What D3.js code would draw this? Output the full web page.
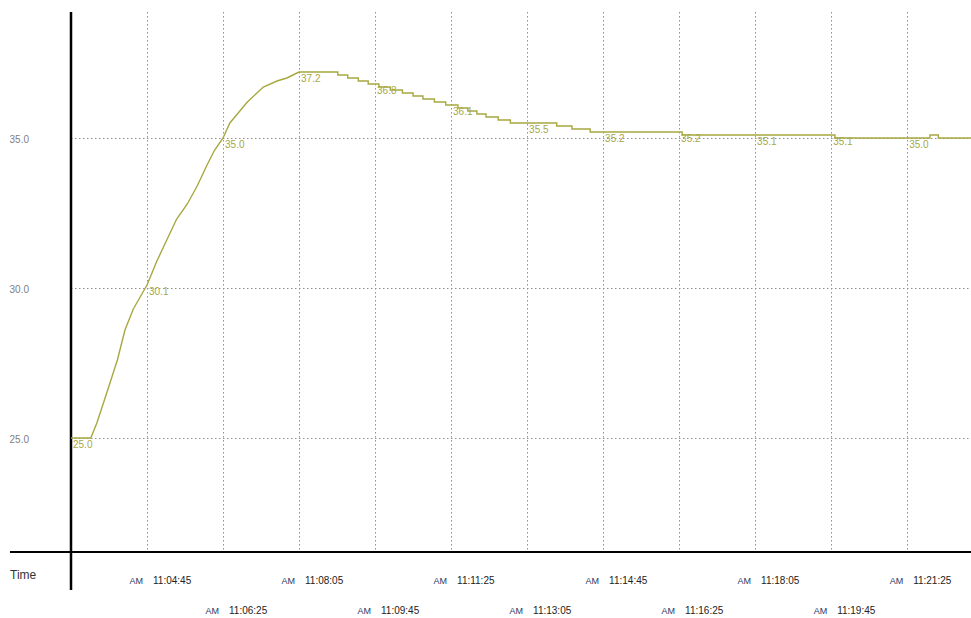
<!DOCTYPE html>
<html>
<head>
<meta charset="utf-8">
<script src="https://cdn.jsdelivr.net/npm/d3@7"></script>
<style>
  body { margin: 0; background: #fff; }
  svg { display: block; font-family: "Liberation Sans", Arial, sans-serif; }
  .grid line { stroke: #909090; stroke-width: 1; stroke-dasharray: 1.5,2.5; }
  .temp { fill: none; stroke: #a8a840; stroke-width: 1.4; }
  .vlabel { fill: #a8a840; font-size: 10px; }
</style>
</head>
<body>
<div id="chart"></div>
<script>
// Rising part of the temperature curve (sampled readings)
const riseTimes = [
  "11:03:05", "11:03:31", "11:03:39", "11:03:52", "11:04:06", "11:04:16",
  "11:04:27", "11:04:36", "11:04:45", "11:04:58", "11:05:11", "11:05:24",
  "11:05:38", "11:05:51", "11:06:04", "11:06:14", "11:06:25", "11:06:34",
  "11:06:57", "11:07:18", "11:07:36", "11:07:49", "11:08:05"
];
const riseValues = [
  25.0, 25.0, 25.5, 26.5, 27.6, 28.6,
  29.3, 29.7, 30.1, 30.9, 31.6, 32.3,
  32.8, 33.4, 34.1, 34.6, 35.0, 35.5,
  36.2, 36.7, 36.9, 37.0, 37.2
];

// After the peak the reading changes in 0.1 steps (time of each change)
const stepTimes = [
  "11:08:05", "11:08:56", "11:09:09", "11:09:23", "11:09:36", "11:09:50",
  "11:10:05", "11:10:21", "11:10:35", "11:10:48", "11:11:03", "11:11:18",
  "11:11:34", "11:11:47", "11:11:59", "11:12:11", "11:12:27", "11:12:43",
  "11:13:44", "11:14:04", "11:14:28", "11:16:29", "11:19:50", "11:21:55",
  "11:22:06", "11:22:49"
];
const stepValues = [
  37.2, 37.1, 37.0, 36.9, 36.8, 36.7,
  36.6, 36.5, 36.4, 36.3, 36.2, 36.1,
  36.0, 35.9, 35.8, 35.7, 35.6, 35.5,
  35.4, 35.3, 35.2, 35.1, 35.0, 35.1,
  35.0, 35.0
];

// Values printed on the curve
const labelTimes = [
  "11:03:05", "11:04:45", "11:06:25", "11:08:05", "11:09:45", "11:11:25",
  "11:13:05", "11:14:45", "11:16:25", "11:18:05", "11:19:45", "11:21:25"
];
const labelValues = [25.0, 30.1, 35.0, 37.2, 36.8, 36.1, 35.5, 35.2, 35.2, 35.1, 35.1, 35.0];

const timeTicks = [
  "11:04:45", "11:06:25", "11:08:05", "11:09:45", "11:11:25", "11:13:05",
  "11:14:45", "11:16:25", "11:18:05", "11:19:45", "11:21:25"
];
const yTicks = [25.0, 30.0, 35.0];

const width = 971, height = 618;
const plot = { left: 71, right: 971, top: 12, bottom: 552 };

const parse = d3.timeParse("%H:%M:%S");

const x = d3.scaleTime()
  .domain([parse("11:03:05"), parse("11:22:49")])
  .range([plot.left, plot.right]);

const y = d3.scaleLinear()
  .domain([21.2, 39.2])
  .range([plot.bottom, plot.top]);

const svg = d3.select("#chart").append("svg")
  .attr("width", width)
  .attr("height", height);

// Grid
const grid = svg.append("g").attr("class", "grid");
grid.selectAll(".vg")
  .data(timeTicks)
  .enter().append("line")
  .attr("x1", d => Math.round(x(parse(d))) + 0.5)
  .attr("x2", d => Math.round(x(parse(d))) + 0.5)
  .attr("y1", plot.top)
  .attr("y2", plot.bottom);
grid.selectAll(".hg")
  .data(yTicks)
  .enter().append("line")
  .attr("x1", plot.left)
  .attr("x2", plot.right)
  .attr("y1", d => Math.round(y(d)) + 0.5)
  .attr("y2", d => Math.round(y(d)) + 0.5);

// Y axis labels
const yAxis = svg.append("g")
  .attr("transform", `translate(${plot.left},0)`)
  .call(d3.axisLeft(y).tickValues(yTicks).tickSize(0).tickPadding(42).tickFormat(d3.format(".1f")));
yAxis.select(".domain").remove();
yAxis.selectAll("text")
  .attr("dy", "0.45em")
  .style("font-size", "10px")
  .style("font-family", "Liberation Sans, Arial, sans-serif")
  .attr("fill", "#808080");

// Axis frame lines
svg.append("line")
  .attr("x1", 10).attr("x2", plot.right)
  .attr("y1", plot.bottom).attr("y2", plot.bottom)
  .attr("stroke", "#000").attr("stroke-width", 2);
svg.append("line")
  .attr("x1", plot.left).attr("x2", plot.left)
  .attr("y1", plot.top).attr("y2", 590)
  .attr("stroke", "#000").attr("stroke-width", 2.5);

svg.append("text")
  .attr("x", 10).attr("y", 579)
  .attr("fill", "#333")
  .style("font-size", "12px")
  .text("Time");

// Time tick labels, alternating rows
const xt = svg.append("g").selectAll("g")
  .data(timeTicks)
  .enter().append("g")
  .attr("transform", (d, i) => `translate(${x(parse(d))},${i % 2 === 0 ? 584 : 614})`);
xt.append("text")
  .attr("x", -4)
  .attr("text-anchor", "end")
  .attr("fill", "#2a3a6a")
  .style("font-size", "9px")
  .text("AM");
xt.append("text")
  .attr("x", 6)
  .attr("fill", "#222")
  .style("font-size", "10px")
  .text(d => d);

// Temperature line
const rise = riseTimes.map((t, i) => ({ t: parse(t), v: riseValues[i] }));
const steps = stepTimes.map((t, i) => ({ t: parse(t), v: stepValues[i] }));

svg.append("path")
  .datum(rise)
  .attr("class", "temp")
  .attr("d", d3.line().x(d => x(d.t)).y(d => y(d.v)));

svg.append("path")
  .datum(steps)
  .attr("class", "temp")
  .attr("d", d3.line().x(d => x(d.t)).y(d => y(d.v)).curve(d3.curveStepAfter));

// Value labels
svg.append("g").selectAll("text")
  .data(labelTimes)
  .enter().append("text")
  .attr("class", "vlabel")
  .attr("x", d => x(parse(d)) + 2)
  .attr("y", (d, i) => y(labelValues[i]) + 10)
  .text((d, i) => labelValues[i].toFixed(1));
</script>
</body>
</html>
